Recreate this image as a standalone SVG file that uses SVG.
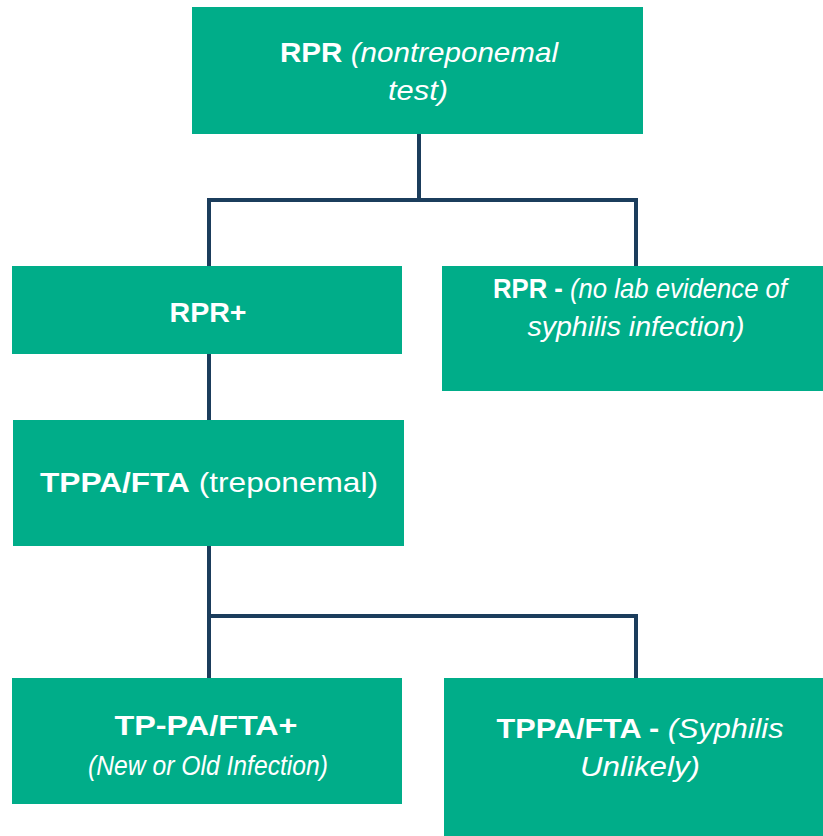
<svg xmlns="http://www.w3.org/2000/svg" width="823" height="836" viewBox="0 0 823 836">
<style>
.box{fill:#00ad89}
.t{font-family:"Liberation Sans","Open Sans",Arial,sans-serif;fill:#ffffff;font-size:28px}
.b{font-weight:bold}
.i{font-style:italic}
.c{fill:none;stroke:#1b3d5c;stroke-width:4;stroke-linejoin:miter}
</style>
<rect width="823" height="836" fill="#ffffff"/>
<g id="connectors">
<polyline class="c" points="419,134 419,200"/>
<polyline class="c" points="209,266 209,200 636,200 636,266"/>
<polyline class="c" points="209,354 209,420"/>
<polyline class="c" points="209,546 209,678"/>
<polyline class="c" points="209,616 636,616 636,678"/>
</g>
<g id="rpr">
<rect class="box" x="192" y="7" width="451" height="127"/>
<text class="t" x="419" y="62" text-anchor="middle" textLength="278" lengthAdjust="spacingAndGlyphs"><tspan class="b">RPR</tspan><tspan class="i"> (nontreponemal</tspan></text>
<text class="t i" x="418" y="100" text-anchor="middle" textLength="60" lengthAdjust="spacingAndGlyphs">test)</text>
</g>
<g id="rpr-pos">
<rect class="box" x="12" y="266" width="390" height="88"/>
<text class="t b" x="208" y="322" text-anchor="middle" textLength="77" lengthAdjust="spacingAndGlyphs">RPR+</text>
</g>
<g id="rpr-neg">
<rect class="box" x="442" y="266" width="381" height="125"/>
<text class="t" x="640" y="298" text-anchor="middle" textLength="294" lengthAdjust="spacingAndGlyphs"><tspan class="b">RPR -</tspan><tspan class="i"> (no lab evidence of</tspan></text>
<text class="t i" x="636" y="336" text-anchor="middle" textLength="217" lengthAdjust="spacingAndGlyphs">syphilis infection)</text>
</g>
<g id="tppa">
<rect class="box" x="13" y="420" width="391" height="126"/>
<text class="t" x="209" y="492" text-anchor="middle" textLength="338" lengthAdjust="spacingAndGlyphs"><tspan class="b">TPPA/FTA</tspan><tspan> (treponemal)</tspan></text>
</g>
<g id="tppa-pos">
<rect class="box" x="12" y="678" width="390" height="126"/>
<text class="t b" x="206" y="735" text-anchor="middle" textLength="183" lengthAdjust="spacingAndGlyphs">TP-PA/FTA+</text>
<text class="t i" x="208" y="775" text-anchor="middle" textLength="240" lengthAdjust="spacingAndGlyphs">(New or Old Infection)</text>
</g>
<g id="tppa-neg">
<rect class="box" x="444" y="678" width="379" height="158"/>
<text class="t" x="640" y="738" text-anchor="middle" textLength="287" lengthAdjust="spacingAndGlyphs"><tspan class="b">TPPA/FTA -</tspan><tspan class="i"> (Syphilis</tspan></text>
<text class="t i" x="640" y="776" text-anchor="middle" textLength="120" lengthAdjust="spacingAndGlyphs">Unlikely)</text>
</g>
</svg>
